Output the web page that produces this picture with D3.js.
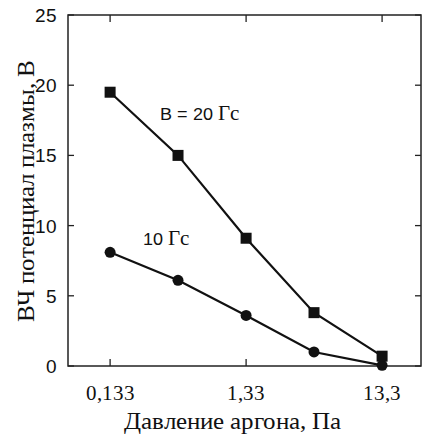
<!DOCTYPE html>
<html>
<head>
<meta charset="utf-8">
<script src="https://cdn.jsdelivr.net/npm/d3@7"></script>
<style>
  @font-face { font-family: 'ChartSerif'; src: local('Liberation Serif'), local('LiberationSerif'), local('Liberation Serif Regular'); }
  @font-face { font-family: 'ChartSans'; src: local('Liberation Sans'), local('LiberationSans'), local('Liberation Sans Regular'); }
  svg text.ser, svg tspan.ser { font-family: 'ChartSerif', 'Liberation Serif', serif !important; }
  svg text.san, svg tspan.san { font-family: 'ChartSans', 'Liberation Sans', sans-serif !important; }
</style>
</head>
<body style="margin:0">
<script>
// Pressure (Pa) and RF plasma potential (V) values
const pressure = [0.133, 0.42, 1.33, 4.2, 13.3];
const potential20 = [19.5, 15.0, 9.1, 3.8, 0.7];
const potential10 = [8.1, 6.1, 3.6, 1.0, 0.05];
const xTicks = [0.133, 1.33, 13.3];
const xTickLabels = ['0,133', '1,33', '13,3'];
const yTicks = [0, 5, 10, 15, 20, 25];

const W = 423, H = 437;
const margin = { top: 15, right: 2, bottom: 71, left: 68 };

const svg = d3.select('body')
    .append('svg')
    .attr('width', W)
    .attr('height', H)
    .style('display', 'block');

const x = d3.scaleLog()
    .domain([0.0652, 25.7])
    .range([margin.left, W - margin.right]);
const y = d3.scaleLinear()
    .domain([0, 25])
    .range([H - margin.bottom, margin.top]);

// Frame
svg.append('rect')
    .attr('x', margin.left)
    .attr('y', margin.top)
    .attr('width', W - margin.left - margin.right)
    .attr('height', H - margin.top - margin.bottom)
    .attr('fill', 'none')
    .attr('stroke', '#222')
    .attr('stroke-width', 1.5);

// Inward ticks on all four sides
const tickG = svg.append('g')
    .attr('stroke', '#222')
    .attr('stroke-width', 1.3);
tickG.selectAll('.yl')
    .data(yTicks)
    .enter()
    .append('line')
    .attr('x1', margin.left).attr('x2', margin.left + 6)
    .attr('y1', d => y(d)).attr('y2', d => y(d));
tickG.selectAll('.yr')
    .data(yTicks)
    .enter()
    .append('line')
    .attr('x1', W - margin.right).attr('x2', W - margin.right - 6)
    .attr('y1', d => y(d)).attr('y2', d => y(d));
tickG.selectAll('.xb')
    .data(xTicks)
    .enter()
    .append('line')
    .attr('x1', d => x(d)).attr('x2', d => x(d))
    .attr('y1', H - margin.bottom).attr('y2', H - margin.bottom - 7);
tickG.selectAll('.xt')
    .data(xTicks)
    .enter()
    .append('line')
    .attr('x1', d => x(d)).attr('x2', d => x(d))
    .attr('y1', margin.top).attr('y2', margin.top + 7);

// Tick labels
svg.append('g')
    .selectAll('text')
    .data(yTicks)
    .enter()
    .append('text')
    .attr('class', 'san')
    .attr('x', margin.left - 11)
    .attr('y', d => y(d) + 7)
    .attr('text-anchor', 'end')
    .attr('font-size', 19)
    .attr('fill', '#111')
    .text(d => d);

svg.append('g')
    .selectAll('text')
    .data(xTicks)
    .enter()
    .append('text')
    .attr('class', 'ser')
    .attr('x', d => x(d))
    .attr('y', 400)
    .attr('text-anchor', 'middle')
    .attr('font-size', 21)
    .attr('fill', '#111')
    .text((d, i) => xTickLabels[i]);

// Axis titles
svg.append('text')
    .attr('class', 'ser')
    .attr('x', 232)
    .attr('y', 429)
    .attr('text-anchor', 'middle')
    .attr('font-size', 25)
    .attr('fill', '#111')
    .text('Давление аргона, Па');

svg.append('text')
    .attr('class', 'ser')
    .attr('transform', `translate(34,${(margin.top + H - margin.bottom) / 2}) rotate(-90)`)
    .attr('text-anchor', 'middle')
    .attr('font-size', 25)
    .attr('fill', '#111')
    .text('ВЧ потенциал плазмы, В');

// Series
const line = d3.line()
    .x(d => x(d[0]))
    .y(d => y(d[1]));

const s20 = d3.zip(pressure, potential20),
    s10 = d3.zip(pressure, potential10);

[s20, s10].forEach(s => {
    svg.append('path')
        .datum(s)
        .attr('d', line)
        .attr('fill', 'none')
        .attr('stroke', '#111')
        .attr('stroke-width', 2.2);
});

svg.append('g')
    .selectAll('circle')
    .data(s10)
    .enter()
    .append('circle')
    .attr('cx', d => x(d[0]))
    .attr('cy', d => y(d[1]))
    .attr('r', 5.5)
    .attr('fill', '#111');

const sq = 11;
svg.append('g')
    .selectAll('rect')
    .data(s20)
    .enter()
    .append('rect')
    .attr('x', d => x(d[0]) - sq / 2)
    .attr('y', d => y(d[1]) - sq / 2)
    .attr('width', sq)
    .attr('height', sq)
    .attr('fill', '#111');

// Annotations
const lab20 = svg.append('text')
    .attr('x', 160)
    .attr('y', 120)
    .attr('fill', '#111')
    .attr('font-size', 18);
lab20.append('tspan').attr('class', 'san').text('B = 20 ');
lab20.append('tspan').attr('class', 'ser').attr('font-size', 21).text('Гс');

const lab10 = svg.append('text')
    .attr('x', 143)
    .attr('y', 245)
    .attr('fill', '#111')
    .attr('font-size', 18);
lab10.append('tspan').attr('class', 'san').text('10 ');
lab10.append('tspan').attr('class', 'ser').attr('font-size', 21).text('Гс');
</script>
</body>
</html>
